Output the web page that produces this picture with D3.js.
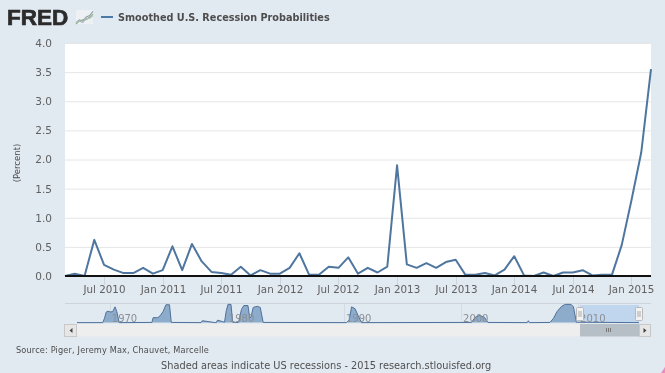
<!DOCTYPE html>
<html><head><meta charset="utf-8">
<script src="https://cdn.jsdelivr.net/npm/d3@7/dist/d3.min.js"></script>
<style>
html,body{margin:0;padding:0;background:#e1e9f1;overflow:hidden}
svg{display:block;filter:blur(0.35px)}
text{font-family:"DejaVu Sans",sans-serif}
</style></head><body><svg id="c" width="665" height="373"></svg>
<script>
const monthStart = [2010, 2]; // March 2010 (zero-based month)
const probabilities = [0,0.04,0,0.62,0.19,0.11,0.05,0.05,0.14,0.04,0.10,0.51,0.10,0.55,0.25,0.07,0.05,0.02,0.16,0.01,0.10,0.04,0.04,0.14,0.39,0.02,0.02,0.16,0.14,0.32,0.04,0.14,0.06,0.16,1.90,0.20,0.14,0.22,0.14,0.24,0.28,0.02,0.02,0.05,0.01,0.11,0.34,0.01,0,0.06,0,0.06,0.06,0.10,0.01,0.02,0.02,0.53,1.30,2.12,3.55];
const yTicks = [0,0.5,1,1.5,2,2.5,3,3.5,4];
const navYears = [1967.2,1969.4,1969.55,1969.7,1969.85,1970.05,1970.25,1970.45,1970.6,1970.8,1973.6,1973.7,1974.1,1974.3,1974.55,1974.8,1975.1,1975.25,1977.7,1977.8,1977.9,1979.0,1979.1,1979.2,1979.8,1979.95,1980.1,1980.35,1980.5,1981.0,1981.25,1981.45,1981.8,1981.95,1982.05,1982.25,1982.6,1982.85,1983.1,1990.2,1990.45,1990.65,1990.95,1991.2,1991.5,2000.9,2001.2,2001.6,2002.0,2002.3,2005.65,2005.75,2005.85,2007.6,2007.9,2008.2,2008.6,2008.9,2009.4,2009.6,2009.85,2015.2];
const navValues = [2,2,25,58,62,58,60,85,60,2,3,28,28,38,60,96,96,3,2,2,12,2,2,15,4,65,98,98,4,3,72,92,92,30,30,82,88,82,3,2,15,85,75,40,2,3,30,40,30,3,2,12,2,3,25,60,88,98,98,85,4,2];
const navTicks = [1970,1980,1990,2000,2010];
const dateTicks = [[2010,6],[2011,0],[2011,6],[2012,0],[2012,6],[2013,0],[2013,6],[2014,0],[2014,6],[2015,0]];
const seriesTitle = "Smoothed U.S. Recession Probabilities";
const sourceText = "Source: Piger, Jeremy Max, Chauvet, Marcelle";
const footerText = "Shaded areas indicate US recessions - 2015 research.stlouisfed.org";

const svg = d3.select("#c");
const L=65,R=651,T=43,B=276;
const x=d3.scaleLinear().domain([0,probabilities.length-1]).range([L,R]);
const xi=d=>(d.getFullYear()-monthStart[0])*12+d.getMonth()-monthStart[1];
const y=d3.scaleLinear().domain([0,4]).range([B,T]);
svg.append("rect").attr("x",L).attr("y",T).attr("width",R-L).attr("height",B-T).attr("fill","#fff");
const fmt=d3.timeFormat("%b %Y");

// y axis
const ya=svg.append("g").attr("transform",`translate(${L},0)`).call(d3.axisLeft(y).tickValues(yTicks).tickFormat(d3.format(".1f")).tickSize(0).tickPadding(13));
ya.select(".domain").remove();
ya.selectAll("text").attr("fill","#606060").style("font-size","10.5px");
svg.append("g").selectAll("line").data(yTicks.slice(1)).join("line").attr("x1",L).attr("x2",R).attr("y1",d=>y(d)+.5).attr("y2",d=>y(d)+.5).attr("stroke","#e6e6e6");
svg.append("text").attr("transform",`translate(17,163) rotate(-90)`).attr("text-anchor","middle").attr("dy","0.35em").attr("fill","#4d4d4d").style("font-size","8.5px").text("(Percent)");

// x axis
const tickDates=dateTicks.map(d=>new Date(d[0],d[1],1));
const tg=svg.append("g").selectAll("g").data(tickDates).join("g").attr("transform",d=>`translate(${Math.round(x(xi(d)))+.5},${B})`);
tg.append("line").attr("y1",0).attr("y2",9).attr("stroke","#ccd3da");
tg.append("text").attr("text-anchor","middle").attr("y",17).attr("fill","#606060").style("font-size","10.3px").text(fmt);

const line=d3.line().x((d,i)=>x(i)).y(d=>y(d));
svg.append("path").datum(probabilities).attr("d",line).attr("fill","none").attr("stroke","#4f769f").attr("stroke-width",2).attr("stroke-linejoin","round");
svg.append("line").attr("x1",L).attr("x2",R).attr("y1",B).attr("y2",B).attr("stroke","#111").attr("stroke-width",2);

// header
svg.append("text").attr("x",7).attr("y",25).attr("fill","#2b2b2b").style("font-family","Liberation Sans").style("font-weight","bold").style("font-size","22.5px").attr("stroke","#2b2b2b").attr("stroke-width",.7).text("FRED");
const iconX=d3.scaleLinear().domain([0,5]).range([76,93]);
const iconY=d3.scaleLinear().domain([0,10]).range([24,10]);
svg.append("rect").attr("x",76).attr("y",10).attr("width",17).attr("height",14).attr("fill","#eef1f3");
[[1,3,2,5,6,9],[0,2,3,3,5,7],[1,2,1,4,4,6]].forEach((s,k)=>{
 svg.append("path").datum(s).attr("d",d3.line().x((d,i)=>iconX(i)).y(d=>iconY(d))).attr("fill","none").attr("stroke",["#8f9fae","#93b377","#aebbc6"][k]).attr("stroke-width",1.1);
});
svg.append("line").attr("x1",101).attr("x2",113).attr("y1",17).attr("y2",17).attr("stroke","#4a7ba8").attr("stroke-width",2);
svg.append("text").attr("x",118).attr("y",21).attr("fill","#4d4d4d").style("font-weight","bold").style("font-size","9.7px").text(seriesTitle);

// navigator
const navT=304,navB=322.5,navL=77,navR=639;
const nx=d3.scaleLinear().domain([navYears[0],navYears[navYears.length-1]]).range([navL,navR]);
const ny=d3.scaleLinear().domain([0,100]).range([navB+.5,navT]);
svg.append("line").attr("x1",L).attr("x2",R).attr("y1",303.5).attr("y2",303.5).attr("stroke","#cdd3d9");
svg.append("rect").attr("x",580).attr("y",305).attr("width",navR-580).attr("height",navB-305).attr("fill","#c0d6ee");
svg.append("g").selectAll("line").data(navTicks).join("line").attr("x1",d=>Math.round(nx(d))+.5).attr("x2",d=>Math.round(nx(d))+.5).attr("y1",304).attr("y2",323).attr("stroke","#d3dbe3");
const pts=navYears.map((d,i)=>[d,navValues[i]]);
svg.append("path").datum(pts).attr("d",d3.area().x(d=>nx(d[0])).y0(navB).y1(d=>ny(d[1]))).attr("fill","#8dabcb");
svg.append("path").datum(pts).attr("d",d3.line().x(d=>nx(d[0])).y(d=>ny(d[1]))).attr("fill","none").attr("stroke","#4f7099").attr("stroke-width",1);
svg.append("g").selectAll("text").data(navTicks).join("text").attr("x",d=>nx(d)+2).attr("y",322).attr("fill","#8a8f94").style("font-size","10px").text(d=>d);
[580,639].forEach(h=>{
 const g=svg.append("g").attr("transform",`translate(${h},0)`);
 g.append("rect").attr("x",-3.5).attr("y",307.5).attr("width",7).attr("height",13).attr("rx",1).attr("fill","#f2f2f2").attr("stroke","#b8b8b8");
 g.append("line").attr("x1",-1).attr("x2",-1).attr("y1",311).attr("y2",317).attr("stroke","#aaa");
 g.append("line").attr("x1",1).attr("x2",1).attr("y1",311).attr("y2",317).attr("stroke","#aaa");
});

// scrollbar
svg.append("rect").attr("x",65).attr("y",324).attr("width",586).attr("height",12.5).attr("fill","#eeeeee");
svg.append("rect").attr("x",64.5).attr("y",324.5).attr("width",12).attr("height",12).attr("fill","#e6e6e6").attr("stroke","#c8c8c8");
svg.append("rect").attr("x",639.5).attr("y",324.5).attr("width",11).attr("height",12).attr("fill","#e6e6e6").attr("stroke","#c8c8c8");
svg.append("rect").attr("x",580).attr("y",324).attr("width",59).attr("height",12.5).attr("fill","#b6bec6");
[606.5,608.5,610.5].forEach(p=>svg.append("line").attr("x1",p).attr("x2",p).attr("y1",328).attr("y2",332).attr("stroke","#777"));
svg.append("path").attr("d","M72.5,328 L69.5,330.5 L72.5,333 Z").attr("fill","#444");
svg.append("path").attr("d","M643.5,328 L646.5,330.5 L643.5,333 Z").attr("fill","#444");

// footer
svg.append("text").attr("x",16).attr("y",353).attr("fill","#4d4d4d").style("font-size","8.2px").style("letter-spacing","0.15px").text(sourceText);
svg.append("text").attr("x",161).attr("y",369).attr("fill","#505050").style("font-size","9.8px").text(footerText);
svg.append("path").attr("d","M665,367 L661,373 L665,373 Z").attr("fill","#e88fc0");
</script></body></html>
